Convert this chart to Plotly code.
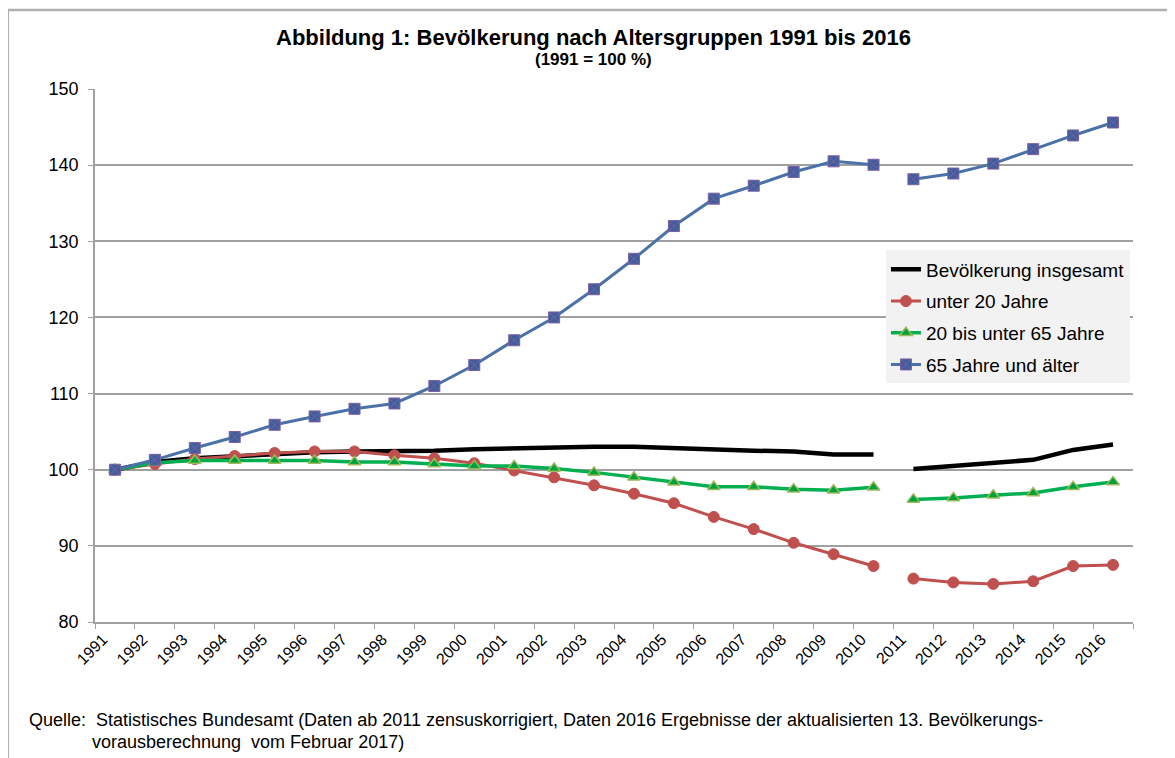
import plotly.graph_objects as go

years = [str(y) for y in range(1991, 2017)]

gesamt = [100.0, 101.0, 101.5, 101.8, 102.1, 102.3, 102.4, 102.4, 102.5, 102.7, 102.8, 103.0,
          103.0, 103.0, 102.8, 102.65, 102.5, 102.4, 102.0, 102.0,
          100.1, 100.5, 100.85, 101.3, 102.6, 103.3]
unter20 = [100.0, 100.75, 101.4, 101.8, 102.2, 102.4, 102.4, 101.9, 101.5, 100.85, 99.9, 99.0,
           97.95, 96.85, 95.6, 93.8, 92.2, 90.4, 88.9, 87.35,
           85.7, 85.2, 85.0, 85.35, 87.35, 87.5]
mitte = [100.0, 100.9, 101.2, 101.2, 101.2, 101.2, 101.0, 101.0, 100.75, 100.5, 100.5, 100.15,
         99.65, 99.0, 98.35, 97.75, 97.75, 97.45, 97.3, 97.7,
         96.1, 96.3, 96.65, 96.95, 97.75, 98.4]
ab65 = [100.0, 101.3, 102.85, 104.3, 105.9, 107.0, 108.0, 108.7, 111.0, 113.75, 117.0, 120.0,
        123.7, 127.7, 132.0, 135.6, 137.3, 139.1, 140.5, 140.05,
        138.15, 138.9, 140.2, 142.1, 143.9, 145.6]

names = ["Bevölkerung insgesamt", "unter 20 Jahre", "20 bis unter 65 Jahre", "65 Jahre und älter"]
split = years.index("2011")

styles = [
    dict(line=dict(color="#000000", width=4.5), mode="lines", marker=None),
    dict(line=dict(color="#c0504d", width=3), mode="lines+markers",
         marker=dict(symbol="circle", size=11, color="#c0504d", line=dict(color="#c0504d", width=1))),
    dict(line=dict(color="#00b050", width=3.5), mode="lines+markers",
         marker=dict(symbol="triangle-up", size=11, color="#00a03c", line=dict(color="#9bbb59", width=1.5))),
    dict(line=dict(color="#4a72a8", width=3), mode="lines+markers",
         marker=dict(symbol="square-x", size=11, color="#3d5f9e", line=dict(color="#7f5fa0", width=1))),
]

fig = go.Figure()
for name, vals, st in zip(names, [gesamt, unter20, mitte, ab65], styles):
    for seg, (xs, ys) in enumerate([(years[:split], vals[:split]), (years[split:], vals[split:])]):
        kw = dict(x=xs, y=ys, name=name, legendgroup=name, showlegend=(seg == 0),
                  mode=st["mode"], line=st["line"])
        if st["marker"]:
            kw["marker"] = st["marker"]
        fig.add_trace(go.Scatter(**kw))

# page body has an 8px margin; figure is sized/offset to compensate
fig.update_layout(
    width=1167, height=750,
    paper_bgcolor="white", plot_bgcolor="white",
    margin=dict(l=87, r=42, t=81, b=136),
    font=dict(family="Liberation Sans, Arial, sans-serif", color="#000000"),
    showlegend=True,
    legend=dict(x=0.762, y=0.697, xanchor="left", yanchor="top",
                bgcolor="#f2f2f2", font=dict(size=19), tracegroupgap=4,
                itemwidth=30),
    xaxis=dict(type="category", categoryorder="array", categoryarray=years,
               range=[-0.5, len(years) - 0.5], tickson="boundaries",
               ticks="outside", ticklen=5, tickcolor="#a0a0a0",
               showline=True, linecolor="#a0a0a0", linewidth=1.5,
               showgrid=False, tickangle=-45, tickfont=dict(size=16),
               ticklabelshift=-12),
    yaxis=dict(range=[80, 150], dtick=10, ticks="outside", ticklen=5,
               tickcolor="#a0a0a0", showline=True, linecolor="#a0a0a0", linewidth=1.5,
               showgrid=True, gridcolor="#a0a0a0", gridwidth=1.5,
               tickfont=dict(size=18), zeroline=False, ticklabelstandoff=6),
)

fig.add_annotation(text="<b>Abbildung 1: Bevölkerung nach Altersgruppen 1991 bis 2016</b>",
                   xref="paper", yref="paper", x=0.48, y=1.0, yshift=52,
                   showarrow=False, font=dict(size=22), xanchor="center", yanchor="middle")
fig.add_annotation(text="<b>(1991 = 100 %)</b>",
                   xref="paper", yref="paper", x=0.48, y=1.0, yshift=30,
                   showarrow=False, font=dict(size=17), xanchor="center", yanchor="middle")
fig.add_annotation(text="Quelle:  Statistisches Bundesamt (Daten ab 2011 zensuskorrigiert, Daten 2016 Ergebnisse der aktualisierten 13. Bevölkerungs-",
                   xref="paper", yref="paper", x=-0.0655, y=0, yshift=-98, xanchor="left",
                   yanchor="middle", showarrow=False, font=dict(size=18))
fig.add_annotation(text="vorausberechnung  vom Februar 2017)",
                   xref="paper", yref="paper", x=-0.005, y=0, yshift=-120, xanchor="left",
                   yanchor="middle", showarrow=False, font=dict(size=18))

# outer frame
fig.add_shape(type="line", xref="paper", yref="paper", x0=-0.084, x1=1.06, y0=1.148, y1=1.148,
              line=dict(color="#b0b0b0", width=2.5))
fig.add_shape(type="line", xref="paper", yref="paper", x0=-0.084, x1=-0.084, y0=1.148, y1=-0.26,
              line=dict(color="#b0b0b0", width=2.5))

fig.write_html("out.html")
